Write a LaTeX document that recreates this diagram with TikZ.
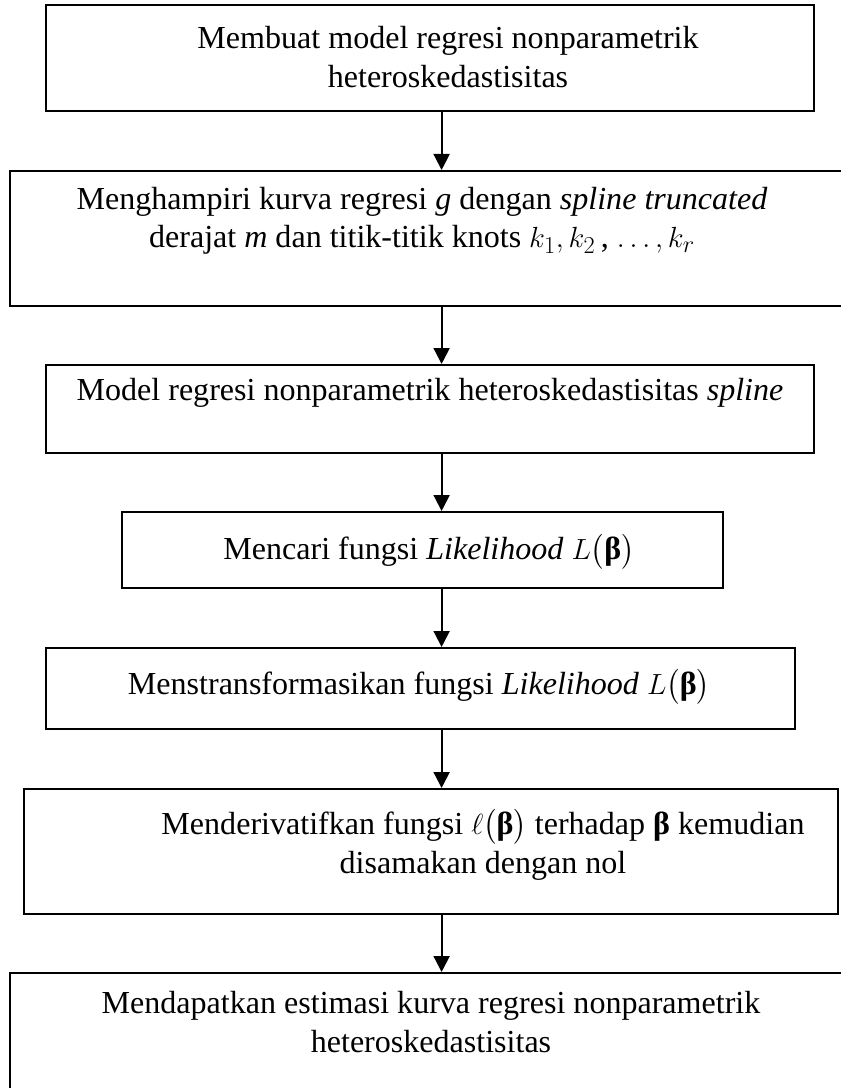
\documentclass[tikz,border=0pt]{standalone}
\usepackage{amsmath}
\usepackage{fontspec}
\setmainfont{Liberation Serif}
\usetikzlibrary{arrows.meta}
\newcommand{\bbeta}{\text{\normalfont\bfseries β}}

\begin{document}
\begin{tikzpicture}[
	box/.style={draw, line width=0.05cm, inner sep=0pt},
	txt/.style={align=center, inner sep=0pt, font=\fontsize{22.8}{27.5}\selectfont},
	arr/.style={line width=0.05cm, -{Triangle[length=0.4cm,width=0.4cm]}}]
			%%%%% START %%%%%
			
			\useasboundingbox (0, 0) rectangle (21.025, -27.2);
			\clip (0, 0) rectangle (21.025, -27.2);
			
			\coordinate (ax) at (11.04, 0);
			
			\node[box, minimum width=19.2cm, minimum height=2.65cm] (b1) at (10.75, -1.45) {};
			\node[txt] (t1) at (11.2, -1.42) {Membuat model regresi nonparametrik\\heteroskedastisitas};
			
			\node[box, minimum width=21.05cm, minimum height=3.375cm] (b2) at (10.775, -5.9625) {};
			\node[txt] (t2) at (10.55, -5.52) {Menghampiri kurva regresi \textit{g} dengan \textit{spline truncated}\\derajat \textit{m} dan titik-titik knots $k_1, k_2$\,, $\ldots, k_r$};
			
			\node[box, minimum width=19.2cm, minimum height=2.2cm] (b3) at (10.75, -10.225) {};
			\node[txt] (t3) at (10.75, -9.82) {Model regresi nonparametrik heteroskedastisitas \textit{spline}};
			
			\node[box, minimum width=15.025cm, minimum height=1.9cm] (b4) at (10.5625, -13.75) {};
			\node[txt] (t4) at (10.725, -13.8) {Mencari fungsi \textit{Likelihood} $L\bigl(\bbeta\bigr)$};
			
			\node[box, minimum width=18.725cm, minimum height=2.025cm] (b5) at (10.5125, -17.2125) {};
			\node[txt] (t5) at (10.475, -17.175) {Menstransformasikan fungsi \textit{Likelihood} $L\bigl(\bbeta\bigr)$};
			
			\node[box, minimum width=20.35cm, minimum height=3.125cm] (b6) at (10.775, -21.2875) {};
			\node[txt] (t6) at (12.075, -21.125) {Menderivatifkan fungsi $\ell\bigl(\bbeta\bigr)$ terhadap $\bbeta$ kemudian\\disamakan dengan nol};
			
			\node[box, minimum width=21.05cm, minimum height=3.275cm] (b7) at (10.775, -25.9625) {};
			\node[txt] (t7) at (10.775, -25.55) {Mendapatkan estimasi kurva regresi nonparametrik\\heteroskedastisitas};
			
			\draw[arr] (b1.south -| ax) -- (b2.north -| ax);
			\draw[arr] (b2.south -| ax) -- (b3.north -| ax);
			\draw[arr] (b3.south -| ax) -- (b4.north -| ax);
			\draw[arr] (b4.south -| ax) -- (b5.north -| ax);
			\draw[arr] (b5.south -| ax) -- (b6.north -| ax);
			\draw[arr] (b6.south -| ax) -- (b7.north -| ax);
			
			%%%%% END %%%%%
\end{tikzpicture}
\end{document}
